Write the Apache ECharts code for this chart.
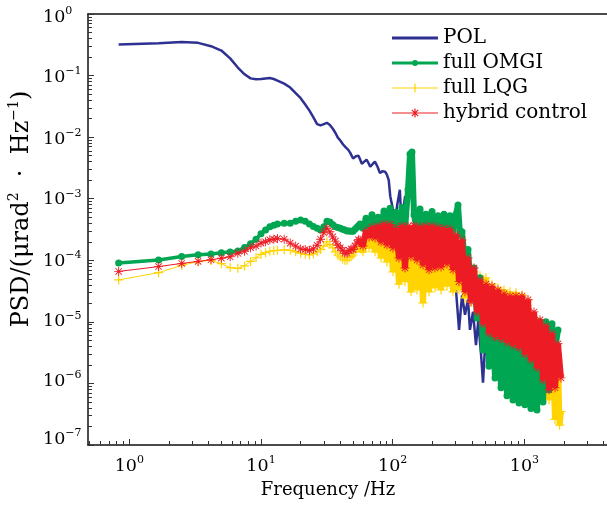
<!DOCTYPE html>
<html>
<head>
<meta charset="utf-8">
<script src="https://cdn.jsdelivr.net/npm/echarts@6.0.0/dist/echarts.min.js"></script>
<style>
  html, body { margin: 0; padding: 0; background: #fff; }
  #chart { width: 607px; height: 505px; }
</style>
</head>
<body>
<div id="chart"></div>
<script>
// ---- axis ranges and tick values ----
const freqRange = [0.4857, 4238];          // Hz
const psdRange = [1e-7, 1];                // urad^2/Hz
const freqMajorTicks = [1, 10, 100, 1000];
const psdMajorTicks = [1, 1e-1, 1e-2, 1e-3, 1e-4, 1e-5, 1e-6, 1e-7];

// ---- PSD curves: [frequency (Hz), PSD] ----
const polData = [
  [0.83,0.32],[1.67,0.335],[2.5,0.35],[3.33,0.34],[4.17,0.30],[5.0,0.255],[5.83,0.19],[6.67,0.135],
  [7.5,0.105],[8.33,0.09],[9.17,0.087],[10.0,0.088],[10.83,0.09],[11.67,0.091],[12.5,0.088],[13.33,0.083],
  [15.0,0.074],[16.67,0.064],[18.33,0.052],[20.0,0.043],[21.67,0.034],[23.33,0.027],[25.0,0.021],
  [26.67,0.0163],[28.33,0.0155],[30.0,0.0163],[31.67,0.0171],[33.33,0.0158],[35.0,0.0138],[36.67,0.0118],
  [38.33,0.0098],[40.0,0.0088],[42.0,0.0076],[44.0,0.0068],[46.0,0.0062],[47.5,0.0056],[50.0,0.0045],
  [52.5,0.0049],[55.0,0.0050],[56.7,0.0043],[58.3,0.0037],[60.8,0.0040],[63.3,0.0043],[65.5,0.0038],
  [67.5,0.0033],[70.0,0.0036],[73.3,0.0040],[76.7,0.0033],[80.0,0.0026],[83.3,0.0028],[87.5,0.00275],
  [90.0,0.0025],[93.3,0.0020],[95.8,0.0011],[100.0,0.0007],[104.2,0.00043],[108.3,0.0008],[113.3,0.0014],
  [116.7,0.0004],[120.8,0.0007],[124.2,0.0011],[127.5,0.0005],[131.7,0.0012],[135.0,0.0051],[139.2,0.0058],
  [142.5,0.0028],[147.5,7.4e-4],[152.9,3.8e-4],[161.2,2.15e-4],[175.0,2.4e-4],[185.3,1.53e-4],[198.8,1.7e-4],
  [212.0,9.4e-5],[228.0,1.09e-4],[245.0,5.9e-5],[258.0,7.0e-5],[272.0,4.0e-5],[287.0,5.9e-5],[302.0,3.4e-5],
  [319.0,7.4e-6],[336.0,2.7e-5],[354.0,1.3e-5],[373.0,2.3e-5],[386.0,7.4e-6],[407.0,1.45e-5],[429.0,4.2e-6],
  [446.0,1.04e-5],[469.0,2.9e-6],[485.0,1.03e-6],[503.0,4.2e-6],[530.0,2.4e-6],[557.0,3.4e-6],[586.0,2.0e-6],
  [617.0,2.9e-6],[648.0,1.7e-6]
];

const omgiLow = [
  [0.83,9.0e-5],[1.67,1.01e-4],[2.5,1.15e-4],[3.33,1.23e-4],[4.17,1.27e-4],[5.0,1.32e-4],[5.83,1.36e-4],
  [6.67,1.41e-4],[7.5,1.62e-4],[8.33,1.85e-4],[9.17,2.2e-4],[10.0,2.7e-4],[10.83,3.1e-4],[11.67,3.5e-4],
  [12.5,3.7e-4],[13.33,3.9e-4],[15.0,4.0e-4],[16.67,4.0e-4],[18.33,4.3e-4],[20.0,4.5e-4],[21.67,4.3e-4],
  [23.33,3.9e-4],[25.0,3.55e-4],[26.67,3.3e-4],[28.33,3.1e-4],[30.0,3.5e-4],[31.67,4.3e-4],[33.33,4.2e-4],
  [35.0,3.8e-4],[36.67,3.5e-4],[38.33,3.4e-4],[40.0,3.3e-4],[41.67,3.2e-4],[43.33,3.1e-4],[45.0,3.0e-4],
  [46.67,3.0e-4],[48.33,2.95e-4],[50.0,2.95e-4],[51.67,3.2e-4],[53.33,3.4e-4],[55.0,3.6e-4]
];
const omgiBand = [
  [55.0,3.6e-4],[56.5,3.9e-4],[59.5,3.3e-4],[62.7,4.8e-4],[66.1,3.5e-4],[69.6,5.5e-4],[73.4,3.5e-4],[77.3,5.0e-4],
  [81.5,3.8e-4],[85.9,6.3e-4],[90.5,3.8e-4],[95.4,7.0e-4],[100.5,3.6e-4],[106,6.0e-4],[111.6,3.2e-4],
  [117.6,7.2e-4],[124,3.2e-4],[130.7,1.4e-3],[135.3,5.3e-3],[140.1,5.75e-3],[145.1,5.5e-4],[152.9,3.0e-4],
  [161.2,6.8e-4],[169.9,3.2e-4],[179,5.6e-4],[188.7,3.2e-4],[198.8,6.2e-4],[209.5,3.2e-4],[220.8,5.3e-4],
  [232.7,3.2e-4],[245.2,5.6e-4],[258.4,3.2e-4],[272.3,5.3e-4],[287,3.0e-4],[302.4,5.6e-4],[313.2,7.9e-4],
  [324.4,2.6e-4],[335.9,2.9e-4],[354,9.4e-5],[373,1.5e-4],[393.1,3.1e-5],[414.3,7.5e-5],[436.6,1.16e-5],
  [460.1,5.2e-5],[484.9,3.5e-6],[511,3.6e-5],[538.5,1.9e-6],[567.5,2.3e-5],[598.1,1.23e-6],[630.3,1.9e-5],
  [664.2,8.5e-7],[700,1.57e-5],[737.7,6.3e-7],[777.5,1.45e-5],[819.2,5.4e-7],[863.3,1.35e-5],[909.9,4.8e-7],
  [958.9,1.25e-5],[1010.6,4.5e-7],[1064.9,1.16e-5],[1122.2,3.9e-7],[1182.7,1.08e-5],[1246.4,3.7e-7],
  [1313.6,1.0e-5],[1384.1,5.0e-7],[1458.7,1.0e-5],[1537.3,7.9e-7],[1620.2,9.3e-6],[1707.6,3.5e-6],[1799.1,7.4e-6]
];

const lqgLow = [
  [0.83,4.8e-5],[1.67,6.3e-5],[2.5,8.3e-5],[3.33,9.5e-5],[4.17,1.0e-4],[5.0,8.8e-5],[5.83,7.6e-5],
  [6.67,7.4e-5],[7.5,8.1e-5],[8.33,9.6e-5],[9.17,1.1e-4],[10.0,1.25e-4],[10.83,1.33e-4],[11.67,1.4e-4],
  [12.5,1.43e-4],[13.33,1.45e-4],[15.0,1.48e-4],[16.67,1.45e-4],[18.33,1.37e-4],[20.0,1.3e-4],[21.67,1.25e-4],
  [23.33,1.22e-4],[25.0,1.27e-4],[26.67,1.37e-4],[28.33,1.5e-4],[30.0,1.7e-4],[31.67,2.0e-4],[33.33,1.8e-4],
  [35.0,1.6e-4],[36.67,1.37e-4],[38.33,1.22e-4],[40.0,1.13e-4],[41.67,1.05e-4],[43.33,1.0e-4],[45.0,1.0e-4],
  [46.67,1.1e-4],[48.33,1.15e-4],[50.0,1.22e-4],[51.67,1.37e-4],[53.33,1.53e-4],[55.0,1.6e-4]
];
const lqgBand = [
  [56.5,1.65e-4],[59.5,1.37e-4],[62.7,2.14e-4],[66.1,1.59e-4],[69.6,2.49e-4],[73.4,1.37e-4],[77.3,2.49e-4],
  [81.5,1.09e-4],[85.9,2.58e-4],[90.5,9.4e-5],[95.4,2.31e-4],[100.5,6.5e-5],[106,2.14e-4],[111.6,4.1e-5],
  [117.6,2.49e-4],[124,4.5e-5],[130.7,2.89e-4],[137.7,3.07e-5],[145.1,2.68e-4],[152.9,3.3e-5],[161.2,2.49e-4],
  [169.9,2.03e-5],[179,2.89e-4],[188.7,3.07e-5],[198.8,2.68e-4],[209.5,3.56e-5],[220.8,2.49e-4],[232.7,3.3e-5],
  [245.2,2.31e-4],[258.4,3.8e-5],[272.3,2.14e-4],[287,3.07e-5],[302.4,1.71e-4],[318.7,3.3e-5],[335.9,1.18e-4],
  [354,2.45e-5],[373,8.7e-5],[393.1,2.1e-5],[414.3,6.5e-5],[436.6,1.82e-5],[460.1,5.6e-5],[484.9,1.25e-5],
  [511,5.2e-5],[538.5,8.6e-6],[567.5,4.1e-5],[598.1,6.4e-6],[630.3,3.56e-5],[664.2,5.1e-6],[700,3.3e-5],
  [737.7,4.56e-6],[777.5,3.07e-5],[819.2,4.07e-6],[863.3,2.96e-5],[909.9,3.5e-6],[958.9,2.74e-5],[1010.6,3.0e-6],
  [1064.9,2.28e-5],[1122.2,2.4e-6],[1182.7,1.16e-5],[1246.4,1.8e-6],[1313.6,1.0e-5],[1384.1,1.23e-6],
  [1458.7,7.4e-6],[1537.3,5.4e-7],[1620.2,5.1e-6],[1707.6,2.6e-7],[1799.1,2.4e-6],[1850,2.1e-7],[1896.1,3.5e-7]
];

const hybridLow = [
  [0.83,6.6e-5],[1.67,7.9e-5],[2.5,8.9e-5],[3.33,9.6e-5],[4.17,1.02e-4],[5.0,1.08e-4],[5.83,1.14e-4],
  [6.67,1.3e-4],[7.5,1.4e-4],[8.33,1.6e-4],[9.17,1.7e-4],[10.0,1.9e-4],[10.83,2.0e-4],[11.67,2.15e-4],
  [12.5,2.2e-4],[13.33,2.25e-4],[15.0,2.2e-4],[16.67,1.9e-4],[18.33,1.7e-4],[20.0,1.53e-4],[21.67,1.5e-4],
  [23.33,1.45e-4],[25.0,1.53e-4],[26.67,1.75e-4],[28.33,2.2e-4],[30.0,2.8e-4],[31.67,3.3e-4],[33.33,2.9e-4],
  [35.0,2.4e-4],[36.67,2.05e-4],[38.33,1.75e-4],[40.0,1.6e-4],[41.67,1.45e-4],[43.33,1.3e-4],[45.0,1.3e-4],
  [46.67,1.45e-4],[48.33,1.53e-4],[50.0,1.5e-4],[51.67,1.7e-4],[53.33,1.9e-4],[55.0,2.15e-4]
];
const hybridBand = [
  [56.5,2.14e-4],[59.5,1.71e-4],[62.7,3.0e-4],[66.1,2.4e-4],[69.6,3.4e-4],[73.4,2.31e-4],[77.3,3.6e-4],
  [81.5,1.99e-4],[85.9,3.9e-4],[90.5,1.78e-4],[95.4,3.8e-4],[100.5,1.59e-4],[106,3.3e-4],[111.6,1.09e-4],
  [117.6,3.6e-4],[124,7.5e-5],[130.7,3.6e-4],[137.7,1.14e-4],[145.1,3.7e-4],[152.9,1.01e-4],[161.2,3.5e-4],
  [169.9,8.4e-5],[179,3.6e-4],[188.7,7.0e-5],[198.8,3.6e-4],[209.5,7.5e-5],[220.8,3.4e-4],[232.7,7.8e-5],
  [245.2,3.3e-4],[258.4,8.7e-5],[272.3,3.2e-4],[287,7.0e-5],[302.4,2.6e-4],[318.7,4.5e-5],[335.9,2.14e-4],
  [354,3.07e-5],[373,1.09e-4],[393.1,2.1e-5],[414.3,7.5e-5],[436.6,1.45e-5],[460.1,4.8e-5],[484.9,9.3e-6],
  [511,4.1e-5],[538.5,6.6e-6],[567.5,3.8e-5],[598.1,5.7e-6],[630.3,3.3e-5],[664.2,5.3e-6],[700,2.85e-5],
  [737.7,4.7e-6],[777.5,2.64e-5],[819.2,4.2e-6],[863.3,2.64e-5],[909.9,3.8e-6],[958.9,2.64e-5],[1010.6,3.0e-6],
  [1064.9,2.28e-5],[1122.2,2.4e-6],[1182.7,1.45e-5],[1246.4,1.8e-6],[1313.6,1.08e-5],[1384.1,1.14e-6],
  [1458.7,8.6e-6],[1537.3,7.9e-7],[1620.2,6.4e-6],[1707.6,8.5e-7],[1799.1,4.4e-6],[1896.1,1.23e-6]
];

// ---- styling ----
const FONT = 'DejaVu Serif';
const BLUE = '#2e3192', GREEN = '#00a651', YELLOW = '#ffd400', RED = '#ed1c24';
const PLUS = 'path://M8.7,0L11.3,0L11.3,8.7L20,8.7L20,11.3L11.3,11.3L11.3,20L8.7,20L8.7,11.3L0,11.3L0,8.7L8.7,8.7Z';
const STAR = 'path://M9,0L11,0L11,20L9,20Z M0,9L20,9L20,11L0,11Z M2.2,3.6L3.6,2.2L17.8,16.4L16.4,17.8Z M16.4,2.2L17.8,3.6L3.6,17.8L2.2,16.4Z';

// legend keys: a 46x14 box holding the line sample and its marker
const KEY_BOX = 'M0,0L0.01,0L0.01,0.01Z M46,14L45.99,14L45.99,13.99Z ';
const KEY_POL = 'path://' + KEY_BOX + 'M0,5.6L46,5.6L46,8.4L0,8.4Z';
const KEY_OMGI = 'path://' + KEY_BOX + 'M0,5.5L46,5.5L46,8.5L0,8.5Z M20,7A3,3,0,1,1,26,7A3,3,0,1,1,20,7Z';
const KEY_LQG = 'path://' + KEY_BOX + 'M0,6.4L46,6.4L46,7.6L0,7.6Z M22.4,2.5L23.6,2.5L23.6,11.5L22.4,11.5Z';
const KEY_HYB = 'path://' + KEY_BOX + 'M0,6.4L46,6.4L46,7.6L0,7.6Z M22.4,2.5L23.6,2.5L23.6,11.5L22.4,11.5Z ' +
  'M20.22,3.38L26.62,9.78L25.78,10.62L19.38,4.22Z M25.78,3.38L26.62,4.22L20.22,10.62L19.38,9.78Z';

// minor ticks at 2..9 times every decade
function minorTicks(lo, hi) {
  const out = [];
  for (let e = Math.floor(Math.log10(lo)); e <= Math.ceil(Math.log10(hi)); e++) {
    for (let m = 2; m <= 9; m++) {
      const v = m * Math.pow(10, e);
      if (v > lo && v < hi) out.push(v);
    }
  }
  return out;
}
const freqMinorTicks = minorTicks(freqRange[0], freqRange[1]);
const psdMinorTicks = minorTicks(psdRange[0], psdRange[1]);

// "10" with a raised exponent; each PSD label can be nudged up/down a few pixels
const psdLabelNudge = { 0: 3, 1: 2, 2: 2, 3: 1, 4: 1, 5: 0, 6: -2, 7: -6 };
function expText(e) { return e < 0 ? '\u2212' + (-e) : String(e); }
function freqLabel(v) {
  const e = Math.round(Math.log10(v));
  return '{b|10}{s|' + expText(e) + '}';
}
function psdLabel(v) {
  const e = Math.round(Math.log10(v));
  return '{b' + (-e) + '|10}{s' + (-e) + '|' + expText(e) + '}';
}
const baseStyle = { fontFamily: FONT, fontSize: 17.5, color: '#000' };
const supStyle = { fontFamily: FONT, fontSize: 11, color: '#000' };
const freqRich = {
  b: Object.assign({}, baseStyle),
  s: Object.assign({ padding: [0, 0, 12, 0] }, supStyle)
};
const psdRich = {};
Object.keys(psdLabelNudge).forEach(k => {
  const d = psdLabelNudge[k];
  psdRich['b' + k] = Object.assign({ padding: d >= 0 ? [2 * d, 0, 0, 0] : [0, 0, -2 * d, 0] }, baseStyle);
  psdRich['s' + k] = Object.assign({ padding: d >= 0 ? [2 * d, 0, 12, 0] : [0, 0, 12 - 2 * d, 0] }, supStyle);
});

const axisLineStyle = { color: '#111', width: 1.5 };
const tickStyle = { color: '#333', width: 1 };

function freqAxis(extra) {
  return Object.assign({
    type: 'log', logBase: 10, min: freqRange[0], max: freqRange[1],
    splitLine: { show: false }, axisLabel: { show: false }, axisTick: { show: false },
    axisLine: { show: false }
  }, extra);
}
function psdAxis(extra) {
  return Object.assign({
    type: 'log', logBase: 10, min: psdRange[0], max: psdRange[1],
    splitLine: { show: false }, axisLabel: { show: false }, axisTick: { show: false },
    axisLine: { show: false }
  }, extra);
}

// low-frequency part: thin line with markers; dense part: heavy stroke so the band reads solid
const lowLine = (name, data, color, symbol, size, width, z) => ({
  name, type: 'line', data, symbol, symbolSize: size, z,
  lineStyle: { color, width }, itemStyle: { color }
});
const bandLine = (name, data, color, symbol, size, z) => ({
  name, type: 'line', data, symbol, symbolSize: size, z,
  lineStyle: { color, width: 6, join: 'bevel' }, itemStyle: { color }
});

const chart = echarts.init(document.getElementById('chart'));
chart.setOption({
  animation: false,
  backgroundColor: '#fff',
  grid: { left: 88, right: 0, top: 14, bottom: 60 },
  xAxis: [
    freqAxis({
      position: 'bottom',
      axisLine: { show: true, lineStyle: axisLineStyle },
      axisTick: { show: true, inside: true, length: 6, customValues: freqMajorTicks, lineStyle: tickStyle },
      axisLabel: { show: true, customValues: freqMajorTicks, formatter: freqLabel, rich: freqRich, margin: 10 }
    }),
    freqAxis({
      position: 'bottom',
      axisTick: { show: true, inside: true, length: 4, customValues: freqMinorTicks, lineStyle: tickStyle }
    }),
    freqAxis({ position: 'top', axisLine: { show: true, lineStyle: axisLineStyle } })
  ],
  yAxis: [
    psdAxis({
      position: 'left',
      axisLine: { show: true, lineStyle: axisLineStyle },
      axisTick: { show: true, inside: true, length: 6, customValues: psdMajorTicks, lineStyle: tickStyle },
      axisLabel: { show: true, customValues: psdMajorTicks, formatter: psdLabel, rich: psdRich,
                   align: 'left', margin: 45 }
    }),
    psdAxis({
      position: 'left',
      axisTick: { show: true, inside: true, length: 4, customValues: psdMinorTicks, lineStyle: tickStyle }
    })
  ],
  legend: {
    orient: 'vertical', left: 387, top: 23,
    itemWidth: 46, itemHeight: 14, itemGap: 5,
    textStyle: { fontFamily: FONT, fontSize: 20, color: '#000' },
    data: [
      { name: 'POL', icon: KEY_POL },
      { name: 'full OMGI', icon: KEY_OMGI },
      { name: 'full LQG', icon: KEY_LQG },
      { name: 'hybrid control', icon: KEY_HYB }
    ]
  },
  graphic: [
    {
      type: 'text', x: 328, y: 490,
      style: { text: 'Frequency /Hz', fontFamily: FONT, fontSize: 18, fill: '#000',
               align: 'center', verticalAlign: 'middle', textAlign: 'center', textVerticalAlign: 'middle' }
    },
    {
      type: 'text', x: 22, y: 209, rotation: Math.PI / 2,
      style: {
        text: '{n|PSD/(\u03bcrad}{s|2}{n|  \u00b7  Hz}{s|\u22121}{n|)}',
        align: 'center', verticalAlign: 'middle', textAlign: 'center', textVerticalAlign: 'middle',
        rich: {
          n: { fontFamily: FONT, fontSize: 24, fill: '#000' },
          s: { fontFamily: FONT, fontSize: 14, fill: '#000', padding: [0, 0, 15, 0] }
        }
      }
    }
  ],
  series: [
    { name: 'POL', type: 'line', data: polData, symbol: 'none', showSymbol: false, z: 2,
      lineStyle: { color: BLUE, width: 2.5 }, itemStyle: { color: BLUE } },
    lowLine('full LQG', lqgLow, YELLOW, PLUS, 9, 1, 3),
    bandLine('full LQG', lqgBand, YELLOW, PLUS, 9, 3),
    lowLine('full OMGI', omgiLow, GREEN, 'circle', 7, 3.5, 4),
    bandLine('full OMGI', omgiBand, GREEN, 'circle', 7, 4),
    lowLine('hybrid control', hybridLow, RED, STAR, 9, 1, 5),
    bandLine('hybrid control', hybridBand, RED, STAR, 9, 5)
  ]
});
</script>
</body>
</html>
